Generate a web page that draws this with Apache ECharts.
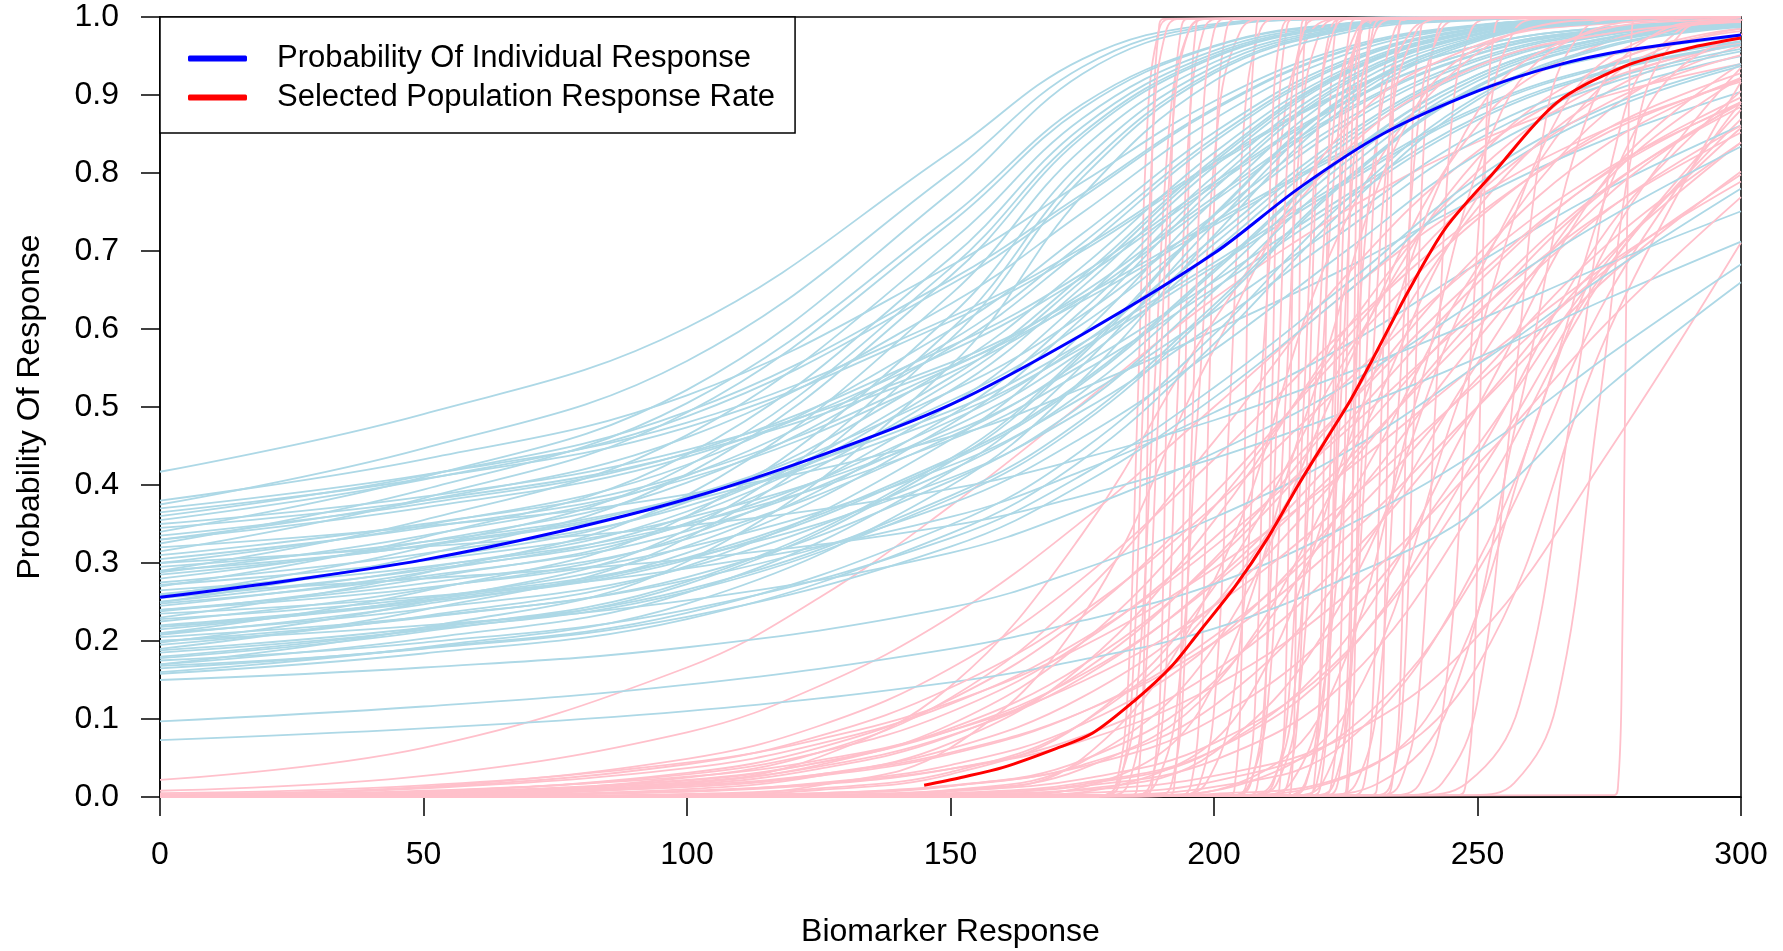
<!DOCTYPE html>
<html>
<head>
<meta charset="utf-8">
<script src="https://cdn.jsdelivr.net/npm/echarts@6/dist/echarts.min.js"></script>
<style>
html,body{margin:0;padding:0;background:#fff;}
#chart{width:1783px;height:951px;}
</style>
</head>
<body>
<div id="chart"></div>
<script>
// ---------- DATA ----------
// Individual response curves (light blue): probability at these biomarker values
const blueX = [0, 50, 100, 150, 175, 200, 225, 250, 275, 300];
const blueCurves = [
  [0.417, 0.491, 0.602, 0.827, 0.946, 0.991, 0.999, 1, 1, 1],
  [0.38, 0.433, 0.515, 0.681, 0.788, 0.892, 0.961, 0.990, 0.998, 1],
  [0.375, 0.447, 0.559, 0.80, 0.936, 0.989, 0.998, 1, 1, 1],
  [0.37, 0.413, 0.48, 0.615, 0.704, 0.813, 0.906, 0.963, 0.987, 0.996],
  [0.365, 0.408, 0.474, 0.61, 0.70, 0.81, 0.904, 0.963, 0.987, 0.996],
  [0.36, 0.412, 0.494, 0.663, 0.773, 0.883, 0.958, 0.989, 0.998, 0.999],
  [0.355, 0.407, 0.488, 0.657, 0.769, 0.881, 0.957, 0.989, 0.998, 1],
  [0.35, 0.385, 0.445, 0.557, 0.641, 0.737, 0.829, 0.907, 0.952, 0.975],
  [0.345, 0.38, 0.44, 0.552, 0.636, 0.733, 0.826, 0.905, 0.951, 0.975],
  [0.34, 0.41, 0.522, 0.775, 0.927, 0.987, 0.998, 1, 1, 1],
  [0.335, 0.376, 0.441, 0.578, 0.671, 0.788, 0.892, 0.957, 0.985, 0.995],
  [0.33, 0.38, 0.461, 0.632, 0.749, 0.869, 0.952, 0.988, 0.997, 1],
  [0.33, 0.371, 0.436, 0.572, 0.666, 0.784, 0.89, 0.957, 0.985, 0.995],
  [0.325, 0.394, 0.505, 0.744, 0.888, 0.963, 0.992, 0.998, 1, 1],
  [0.32, 0.347, 0.388, 0.462, 0.524, 0.598, 0.678, 0.768, 0.845, 0.904],
  [0.315, 0.383, 0.493, 0.736, 0.883, 0.962, 0.991, 0.998, 1, 1],
  [0.31, 0.35, 0.413, 0.55, 0.646, 0.769, 0.881, 0.953, 0.984, 0.995],
  [0.305, 0.345, 0.408, 0.544, 0.64, 0.764, 0.878, 0.952, 0.983, 0.994],
  [0.30, 0.348, 0.426, 0.599, 0.722, 0.852, 0.945, 0.986, 0.997, 0.999],
  [0.295, 0.327, 0.384, 0.495, 0.582, 0.685, 0.791, 0.884, 0.939, 0.969],
  [0.29, 0.355, 0.464, 0.712, 0.870, 0.957, 0.990, 0.998, 1, 1],
  [0.29, 0.322, 0.379, 0.489, 0.576, 0.68, 0.787, 0.881, 0.937, 0.968],
  [0.288, 0.335, 0.412, 0.585, 0.71, 0.845, 0.942, 0.985, 0.997, 0.999],
  [0.285, 0.323, 0.385, 0.52, 0.618, 0.746, 0.868, 0.947, 0.982, 0.994],
  [0.28, 0.327, 0.403, 0.576, 0.702, 0.840, 0.940, 0.985, 0.997, 0.999],
  [0.275, 0.312, 0.373, 0.508, 0.606, 0.737, 0.862, 0.944, 0.981, 0.994],
  [0.272, 0.303, 0.358, 0.467, 0.554, 0.661, 0.771, 0.872, 0.932, 0.965],
  [0.27, 0.333, 0.439, 0.691, 0.859, 0.953, 0.989, 0.998, 1, 1],
  [0.265, 0.295, 0.35, 0.458, 0.545, 0.652, 0.765, 0.868, 0.93, 0.964],
  [0.26, 0.304, 0.378, 0.551, 0.680, 0.826, 0.934, 0.983, 0.996, 0.999],
  [0.258, 0.32, 0.424, 0.678, 0.851, 0.95, 0.988, 0.998, 1, 1],
  [0.255, 0.291, 0.349, 0.482, 0.581, 0.717, 0.849, 0.939, 0.979, 0.993],
  [0.25, 0.31, 0.414, 0.668, 0.846, 0.948, 0.988, 0.998, 1, 1],
  [0.25, 0.293, 0.366, 0.538, 0.668, 0.818, 0.931, 0.982, 0.996, 0.999],
  [0.248, 0.283, 0.341, 0.473, 0.572, 0.709, 0.844, 0.937, 0.978, 0.993],
  [0.245, 0.288, 0.36, 0.531, 0.662, 0.814, 0.929, 0.982, 0.996, 0.999],
  [0.24, 0.274, 0.331, 0.462, 0.561, 0.70, 0.838, 0.934, 0.977, 0.992],
  [0.24, 0.268, 0.32, 0.425, 0.512, 0.622, 0.74, 0.852, 0.92, 0.959],
  [0.238, 0.28, 0.351, 0.521, 0.654, 0.808, 0.927, 0.981, 0.996, 0.999],
  [0.235, 0.257, 0.293, 0.359, 0.418, 0.493, 0.579, 0.684, 0.781, 0.861],
  [0.23, 0.287, 0.387, 0.644, 0.831, 0.942, 0.986, 0.997, 1, 1],
  [0.228, 0.255, 0.306, 0.409, 0.495, 0.606, 0.727, 0.843, 0.915, 0.956],
  [0.225, 0.266, 0.335, 0.503, 0.637, 0.796, 0.921, 0.979, 0.995, 0.999],
  [0.22, 0.252, 0.307, 0.434, 0.533, 0.676, 0.823, 0.926, 0.974, 0.991],
  [0.218, 0.25, 0.304, 0.431, 0.53, 0.673, 0.821, 0.926, 0.974, 0.991],
  [0.215, 0.254, 0.322, 0.489, 0.624, 0.787, 0.917, 0.978, 0.995, 0.999],
  [0.21, 0.264, 0.36, 0.617, 0.814, 0.936, 0.985, 0.997, 1, 1],
  [0.21, 0.241, 0.294, 0.419, 0.519, 0.663, 0.814, 0.922, 0.973, 0.991],
  [0.208, 0.247, 0.313, 0.478, 0.614, 0.78, 0.914, 0.977, 0.995, 0.999],
  [0.205, 0.231, 0.278, 0.376, 0.461, 0.573, 0.70, 0.824, 0.904, 0.95],
  [0.20, 0.23, 0.282, 0.405, 0.503, 0.649, 0.804, 0.918, 0.971, 0.99],
  [0.198, 0.25, 0.343, 0.599, 0.802, 0.931, 0.984, 0.997, 1, 1],
  [0.195, 0.232, 0.296, 0.458, 0.594, 0.765, 0.907, 0.975, 0.994, 0.999],
  [0.19, 0.24, 0.332, 0.587, 0.794, 0.928, 0.983, 0.997, 1, 1],
  [0.188, 0.217, 0.266, 0.386, 0.484, 0.631, 0.792, 0.912, 0.969, 0.989],
  [0.185, 0.214, 0.263, 0.382, 0.479, 0.626, 0.789, 0.91, 0.968, 0.989],
  [0.18, 0.215, 0.276, 0.434, 0.571, 0.747, 0.899, 0.973, 0.994, 0.999],
  [0.178, 0.212, 0.273, 0.43, 0.567, 0.745, 0.897, 0.973, 0.994, 0.999],
  [0.175, 0.198, 0.24, 0.332, 0.413, 0.525, 0.657, 0.794, 0.886, 0.94],
  [0.17, 0.217, 0.302, 0.553, 0.771, 0.918, 0.980, 0.996, 1, 1],
  [0.17, 0.203, 0.262, 0.417, 0.553, 0.734, 0.892, 0.971, 0.993, 0.999],
  [0.168, 0.19, 0.231, 0.321, 0.401, 0.512, 0.646, 0.786, 0.881, 0.937],
  [0.165, 0.191, 0.236, 0.349, 0.445, 0.593, 0.765, 0.898, 0.964, 0.988],
  [0.16, 0.192, 0.248, 0.399, 0.535, 0.72, 0.885, 0.969, 0.993, 0.998],
  [0.158, 0.184, 0.228, 0.338, 0.432, 0.581, 0.755, 0.894, 0.962, 0.987],
  [0.15, 0.166, 0.192, 0.243, 0.292, 0.358, 0.442, 0.554, 0.672, 0.78],
  [0.097, 0.116, 0.144, 0.19, 0.226, 0.273, 0.347, 0.443, 0.567, 0.683],
  [0.073, 0.088, 0.11, 0.147, 0.176, 0.216, 0.281, 0.368, 0.527, 0.66],
  [0.30, 0.321, 0.348, 0.395, 0.434, 0.483, 0.543, 0.611, 0.684, 0.751],
  [0.26, 0.28, 0.305, 0.348, 0.386, 0.434, 0.494, 0.563, 0.64, 0.712],
  [0.20, 0.22, 0.252, 0.313, 0.369, 0.441, 0.528, 0.637, 0.743, 0.834]
];

// Selected population curves (pink), gradual ones: probability at these biomarker values
const pinkX = [0, 50, 100, 125, 150, 175, 200, 225, 250, 275, 300];
const pinkCurves = [
  [0.022, 0.063, 0.166, 0.255, 0.373, 0.505, 0.639, 0.752, 0.84, 0.90, 0.94],
  [0.008, 0.027, 0.083, 0.142, 0.231, 0.354, 0.5, 0.646, 0.769, 0.858, 0.917],
  [0.003, 0.013, 0.049, 0.091, 0.165, 0.28, 0.433, 0.60, 0.746, 0.853, 0.919],
  [0.001, 0.004, 0.025, 0.057, 0.127, 0.259, 0.456, 0.668, 0.828, 0.921, 0.965],
  [0, 0.001, 0.01, 0.027, 0.069, 0.168, 0.354, 0.599, 0.802, 0.917, 0.968],
  [0, 0, 0.002, 0.009, 0.029, 0.095, 0.269, 0.562, 0.818, 0.94, 0.982],
  [0, 0, 0.004, 0.011, 0.032, 0.095, 0.245, 0.5, 0.755, 0.905, 0.967],
  [0, 0, 0, 0.002, 0.008, 0.036, 0.142, 0.426, 0.769, 0.937, 0.985],
  [0, 0, 0.001, 0.004, 0.014, 0.047, 0.148, 0.378, 0.679, 0.881, 0.963],
  [0, 0, 0, 0, 0.002, 0.01, 0.057, 0.259, 0.668, 0.921, 0.985],
  [0, 0, 0.002, 0.005, 0.014, 0.041, 0.117, 0.289, 0.556, 0.794, 0.922],
  [0, 0, 0, 0.001, 0.004, 0.016, 0.06, 0.202, 0.5, 0.798, 0.94],
  [0, 0, 0.002, 0.005, 0.015, 0.039, 0.10, 0.231, 0.45, 0.69, 0.858],
  [0, 0, 0, 0.001, 0.004, 0.014, 0.047, 0.148, 0.378, 0.679, 0.881],
  [0, 0, 0, 0.001, 0.005, 0.018, 0.06, 0.182, 0.438, 0.731, 0.905],
  [0, 0, 0, 0, 0, 0.002, 0.013, 0.07, 0.301, 0.713, 0.935],
  [0, 0, 0.001, 0.003, 0.008, 0.023, 0.069, 0.185, 0.411, 0.682, 0.869],
  [0, 0, 0, 0, 0.001, 0.005, 0.02, 0.083, 0.289, 0.646, 0.891],
  [0, 0, 0, 0.001, 0.003, 0.009, 0.027, 0.078, 0.206, 0.444, 0.711],
  [0, 0, 0, 0, 0, 0, 0.004, 0.027, 0.168, 0.599, 0.917],
  [0, 0, 0, 0.001, 0.007, 0.049, 0.277, 0.739, 0.954, 0.994, 0.999],
  [0, 0, 0.003, 0.015, 0.063, 0.231, 0.574, 0.858, 0.964, 0.992, 0.998],
  [0, 0.002, 0.017, 0.051, 0.142, 0.337, 0.611, 0.829, 0.937, 0.979, 0.993],
  [0.001, 0.004, 0.019, 0.039, 0.079, 0.153, 0.277, 0.448, 0.632, 0.784, 0.885],
  [0.001, 0.004, 0.015, 0.029, 0.057, 0.109, 0.198, 0.332, 0.5, 0.668, 0.802],
  [0, 0, 0, 0.002, 0.009, 0.045, 0.193, 0.549, 0.861, 0.969, 0.994],
  [0.005, 0.015, 0.044, 0.074, 0.121, 0.193, 0.293, 0.418, 0.555, 0.684, 0.789],
  [0.003, 0.011, 0.037, 0.068, 0.119, 0.202, 0.321, 0.469, 0.622, 0.755, 0.852],
  [0.001, 0.003, 0.016, 0.036, 0.078, 0.161, 0.305, 0.5, 0.695, 0.839, 0.922],
  [0.001, 0.003, 0.013, 0.027, 0.055, 0.109, 0.206, 0.354, 0.537, 0.711, 0.839],
  [0.002, 0.007, 0.031, 0.063, 0.125, 0.231, 0.389, 0.574, 0.741, 0.858, 0.928],
  [0.001, 0.006, 0.022, 0.044, 0.085, 0.157, 0.273, 0.43, 0.603, 0.754, 0.861],
  [0, 0.001, 0.007, 0.016, 0.036, 0.078, 0.161, 0.305, 0.5, 0.695, 0.839],
  [0.003, 0.012, 0.042, 0.078, 0.14, 0.237, 0.373, 0.532, 0.686, 0.807, 0.889],
  [0, 0.001, 0.007, 0.018, 0.041, 0.093, 0.198, 0.372, 0.587, 0.773, 0.891],
  [0.001, 0.005, 0.021, 0.044, 0.088, 0.169, 0.301, 0.478, 0.659, 0.804, 0.897],
  [0.002, 0.008, 0.026, 0.047, 0.085, 0.148, 0.245, 0.378, 0.531, 0.679, 0.798],
  [0, 0.002, 0.008, 0.017, 0.036, 0.072, 0.142, 0.259, 0.426, 0.611, 0.769],
  [0.001, 0.003, 0.018, 0.041, 0.093, 0.198, 0.372, 0.587, 0.773, 0.891, 0.951],
  [0.0005, 0.003, 0.013, 0.029, 0.062, 0.128, 0.246, 0.421, 0.618, 0.782, 0.889],
  [0.002, 0.007, 0.029, 0.057, 0.109, 0.198, 0.332, 0.5, 0.668, 0.802, 0.891]
];

// Steep pink curves: biomarker value where each curve crosses these probability levels
const steepLevels = [0.0025, 0.018, 0.119, 0.5, 0.881, 0.982, 0.9975];
const steepCrossings = [
  [179.5, 181.5, 183.5, 185.5, 187.5, 189.5, 191.5],
  [184.5, 185.5, 186.5, 187.5, 188.5, 189.5, 190.5],
  [178.5, 181.8, 185.2, 188.5, 191.8, 195.2, 198.5],
  [187, 188.3, 189.7, 191, 192.3, 193.7, 195],
  [185.5, 188, 190.5, 193, 195.5, 198, 200.5],
  [191.5, 192.5, 193.5, 194.5, 195.5, 196.5, 197.5],
  [185, 189, 193, 197, 201, 205, 209],
  [194, 195.7, 197.3, 199, 200.7, 202.3, 204],
  [194.4, 197.3, 200.1, 203, 205.9, 208.7, 211.6],
  [203, 204, 205, 206, 207, 208, 209],
  [193.5, 198.5, 203.5, 208.5, 213.5, 218.5, 223.5],
  [207, 208.3, 209.7, 211, 212.3, 213.7, 215],
  [203.5, 206.8, 210.2, 213.5, 216.8, 220.2, 223.5],
  [214, 214.7, 215.3, 216, 216.7, 217.3, 218],
  [212, 214, 216, 218, 220, 222, 224],
  [208, 212, 216, 220, 224, 228, 232],
  [218, 219, 220, 221, 222, 223, 224],
  [215, 217.5, 220, 222.5, 225, 227.5, 230],
  [221, 222.3, 223.7, 225, 226.3, 227.7, 229],
  [208.9, 214.6, 220.3, 226, 231.7, 237.4, 243.1],
  [224.5, 225.5, 226.5, 227.5, 228.5, 229.5, 230.5],
  [219.9, 222.8, 225.6, 228.5, 231.4, 234.2, 237.1],
  [226.8, 228.5, 230.1, 231.8, 233.5, 235.1, 236.8],
  [223, 227, 231, 235, 239, 243, 247],
  [232.5, 233.8, 235.2, 236.5, 237.8, 239.2, 240.5],
  [231.3, 233.6, 235.8, 238, 240.2, 242.4, 244.7],
  [232, 235.3, 238.7, 242, 245.3, 248.7, 252],
  [234.7, 239.1, 243.6, 248, 252.4, 256.9, 261.3],
  [246.5, 247.8, 249.2, 250.5, 251.8, 253.2, 254.5],
  [236.6, 243.3, 249.9, 256.6, 263.3, 269.9, 276.6],
  [276, 276.7, 277.3, 278, 278.7, 279.3, 280],
  [238, 248, 258, 268, 278, 288, 298],
  [249, 257, 265, 273, 281, 289, 297],
  [218, 231.3, 244.7, 258, 271.3, 284.7, 298],
  [202, 222, 242, 262, 282, 302, 322],
  [161.3, 183.6, 205.8, 228, 250.2, 272.4, 294.7],
  [188, 204.7, 221.3, 238, 254.7, 271.3, 288],
  [186, 206, 226, 246, 266, 286, 306],
  [158, 178, 198, 218, 238, 258, 278],
  [217.5, 219.5, 221.5, 223.5, 225.5, 227.5, 229.5],
  [224.5, 225.2, 225.8, 226.5, 227.2, 227.8, 228.5],
  [208.4, 211.3, 214.1, 217, 219.9, 222.7, 225.6],
  [204.5, 206.2, 207.8, 209.5, 211.2, 212.8, 214.5],
  [179.8, 182.1, 184.3, 186.5, 188.7, 190.9, 193.2],
  [204.5, 207, 209.5, 212, 214.5, 217, 219.5],
  [211.5, 212.5, 213.5, 214.5, 215.5, 216.5, 217.5],
  [207, 211, 215, 219, 223, 227, 231],
  [219, 220.3, 221.7, 223, 224.3, 225.7, 227],
  [214, 217.3, 220.7, 224, 227.3, 230.7, 234],
  [221.8, 223.5, 225.1, 226.8, 228.5, 230.1, 231.8],
  [216.2, 220.6, 225.1, 229.5, 233.9, 238.4, 242.8],
  [230, 231, 232, 233, 234, 235, 236],
  [180.9, 183.8, 186.6, 189.5, 192.4, 195.2, 198.1],
  [190, 192, 194, 196, 198, 200, 202]
];

// Mean curves [biomarker, probability]
const blueMean = [[0,0.256],[25,0.278],[50,0.304],[75,0.339],[100,0.382],[125,0.437],[150,0.503],[175,0.593],[200,0.697],[216,0.78],[232,0.85],[250,0.905],[265,0.938],[278,0.957],[300,0.977]];
const redMean = [[145,0.015],[152,0.025],[160,0.038],[170,0.062],[177,0.082],[185,0.124],[192,0.168],[197,0.21],[204,0.27],[210,0.33],[216,0.40],[222,0.466],[226,0.51],[230,0.56],[237,0.65],[244,0.73],[253,0.80],[265,0.89],[278,0.937],[290,0.96],[300,0.973]];

const legendNames = ['Probability Of Individual Response', 'Selected Population Response Rate'];
const xTitle = 'Biomarker Response';
const yTitle = 'Probability Of Response';

// ---------- CHART ----------
const FONT = "'Liberation Sans', Arial, Helvetica, sans-serif";
const LIGHTBLUE = '#ADD8E6', PINK = '#FFC0CB';

function thin(data, color) {
  return {
    type: 'line', data: data, symbol: 'none', showSymbol: false,
    smooth: 0.4, silent: true, animation: false,
    lineStyle: { color: color, width: 1.8 }, itemStyle: { color: color },
    emphasis: { disabled: true }, z: 2
  };
}

const blueSeries = blueCurves.map(c => thin(c.map((p, i) => [blueX[i], p]), LIGHTBLUE));
const modPink = pinkCurves.map(c => thin(c.map((p, i) => [pinkX[i], p]), PINK));
const steepPink = steepCrossings.map(xs => {
  const pts = [[0, 0]];
  xs.forEach((x, i) => pts.push([x, steepLevels[i]]));
  if (xs[xs.length - 1] < 300) pts.push([300, 1]);
  return thin(pts, PINK);
});
const pinks = [];
for (let i = 0; i < Math.max(modPink.length, steepPink.length); i++) {
  if (steepPink[i]) pinks.push(steepPink[i]);
  if (modPink[i]) pinks.push(modPink[i]);
}
const series = [];
for (let i = 0; i < Math.max(blueSeries.length, pinks.length); i++) {
  if (blueSeries[i]) series.push(blueSeries[i]);
  if (pinks[i]) series.push(pinks[i]);
}
series.push({
  name: legendNames[0], type: 'line', data: blueMean, symbol: 'none', smooth: 0.3,
  color: '#0000FF', lineStyle: { color: '#0000FF', width: 3 }, itemStyle: { color: '#0000FF' },
  silent: true, animation: false, z: 10
});
series.push({
  name: legendNames[1], type: 'line', data: redMean, symbol: 'none', smooth: 0.3,
  color: '#FF0000', lineStyle: { color: '#FF0000', width: 3 }, itemStyle: { color: '#FF0000' },
  silent: true, animation: false, z: 10
});

const chart = echarts.init(document.getElementById('chart'), null, { renderer: 'canvas' });
chart.setOption({
  animation: false,
  backgroundColor: '#fff',
  textStyle: { fontFamily: FONT },
  grid: { left: 160, right: 42, top: 17, bottom: 154, show: true, borderColor: '#000', borderWidth: 1.5, backgroundColor: 'transparent', containLabel: false, outerBoundsMode: 'none' },
  legend: {
    data: legendNames.map(n => ({ name: n, icon: 'roundRect' })),
    orient: 'vertical', left: 160, top: 17,
    itemWidth: 59, itemHeight: 6, itemGap: 0,
    itemStyle: { borderWidth: 0 },
    padding: [22, 20, 16, 28],
    borderColor: '#000', borderWidth: 1.5, backgroundColor: '#fff',
    selectedMode: false,
    textStyle: { fontSize: 31, color: '#000', fontFamily: FONT, lineHeight: 39, padding: [0, 0, 0, 25] }
  },
  xAxis: {
    type: 'value', min: 0, max: 300, interval: 50,
    name: xTitle, nameLocation: 'middle', nameGap: 119,
    nameTextStyle: { fontSize: 32, color: '#000', fontFamily: FONT },
    axisLine: { show: true, onZero: false, lineStyle: { color: '#000', width: 1.5 } },
    axisTick: { show: true, length: 19, lineStyle: { color: '#000', width: 1.5 } },
    axisLabel: { fontSize: 32, color: '#000', margin: 42, fontFamily: FONT },
    splitLine: { show: false }
  },
  yAxis: {
    type: 'value', min: 0, max: 1, interval: 0.1,
    name: yTitle, nameLocation: 'middle', nameGap: 114,
    nameTextStyle: { fontSize: 32, color: '#000', fontFamily: FONT },
    axisLine: { show: true, onZero: false, lineStyle: { color: '#000', width: 1.5 } },
    axisTick: { show: true, length: 19, lineStyle: { color: '#000', width: 1.5 } },
    axisLabel: { fontSize: 32, color: '#000', margin: 41, fontFamily: FONT, formatter: v => v.toFixed(1) },
    splitLine: { show: false }
  },
  series: series
});
</script>
</body>
</html>
